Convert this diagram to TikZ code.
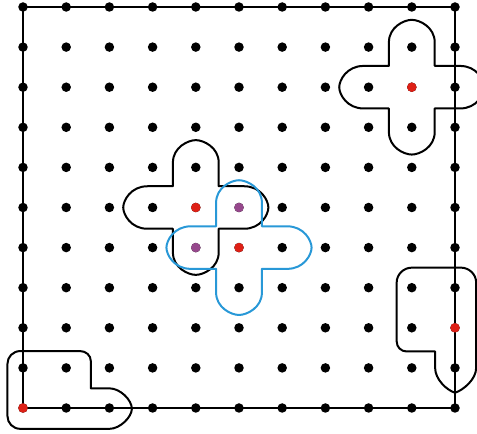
\documentclass[tikz,border=0pt]{standalone}
\definecolor{dotred}{RGB}{222,32,22}
\definecolor{dotpurple}{RGB}{150,72,140}
\definecolor{crossblue}{RGB}{40,152,215}
\tikzset{
  frame/.style={line width=1.8pt},
  outline/.style={line width=2pt, line join=round},
  gdot/.style={circle, fill=black, draw=none, inner sep=0pt, minimum size=9.5pt},
  % four-lobed cross around a grid point
  flower/.pic={
    \def\w{0.53}\def\s{1.12}\def\c{1.5}\def\t{1.68}\def\k{0.18}
    \draw[pic actions]
      (\w,\w) -- (\w,\s) .. controls (\w,\c) and (\k,\t) .. (0,\t)
        .. controls (-\k,\t) and (-\w,\c) .. (-\w,\s) -- (-\w,\w)
      -- (-\s,\w) .. controls (-\c,\w) and (-\t,\k) .. (-\t,0)
        .. controls (-\t,-\k) and (-\c,-\w) .. (-\s,-\w) -- (-\w,-\w)
      -- (-\w,-\s) .. controls (-\w,-\c) and (-\k,-\t) .. (0,-\t)
        .. controls (\k,-\t) and (\w,-\c) .. (\w,-\s) -- (\w,-\w)
      -- (\s,-\w) .. controls (\c,-\w) and (\t,-\k) .. (\t,0)
        .. controls (\t,\k) and (\c,\w) .. (\s,\w) -- cycle;
  }
}
\begin{document}
\begin{tikzpicture}[x=43.2pt, y=40.1pt]
\useasboundingbox (-0.5324,-0.6484) rectangle (10.5093,10.1746);

% square frame through the outer grid points
\draw[frame] (0,0) rectangle (10,10);

% L-shaped region at the lower left corner
\draw[outline]
  (1.57,0.49) -- (1.57,1.17)
    .. controls (1.57,1.31) and (1.46,1.42) .. (1.32,1.42)
  -- (-0.06,1.42)
    .. controls (-0.23,1.42) and (-0.36,1.28) .. (-0.36,1.10)
  -- (-0.36,-0.20)
    .. controls (-0.36,-0.38) and (-0.23,-0.52) .. (-0.06,-0.52)
  -- (2.0,-0.52)
    .. controls (2.25,-0.52) and (2.52,-0.22) .. (2.52,-0.02)
    .. controls (2.52,0.20) and (2.25,0.49) .. (2.0,0.49)
  -- cycle;

% L-shaped region on the right edge
\draw[outline]
  (9.54,1.0) -- (9.54,1.41) -- (8.88,1.41)
    .. controls (8.75,1.41) and (8.65,1.52) .. (8.65,1.66)
  -- (8.65,3.13)
    .. controls (8.65,3.33) and (8.81,3.5) .. (9.0,3.5)
  -- (10.14,3.5)
    .. controls (10.33,3.5) and (10.49,3.33) .. (10.49,3.13)
  -- (10.49,1.0)
    .. controls (10.49,0.72) and (10.2,0.45) .. (10,0.38)
    .. controls (9.8,0.45) and (9.54,0.72) .. (9.54,1.0)
  -- cycle;

% crosses
\pic[outline] at (9,8) {flower};
\pic[outline] at (4,5) {flower};
\pic[outline, draw=crossblue] at (5,4) {flower};

% grid points
\foreach \i in {0,...,10}
  \foreach \j in {0,...,10}
    \node[gdot] (d-\i-\j) at (\i,\j) {};

% marked points
\node[gdot, fill=dotred] (r-0-0) at (d-0-0) {};
\node[gdot, fill=dotred] (r-9-8) at (d-9-8) {};
\node[gdot, fill=dotred] (r-10-2) at (d-10-2) {};
\node[gdot, fill=dotred] (r-4-5) at (d-4-5) {};
\node[gdot, fill=dotred] (r-5-4) at (d-5-4) {};
\node[gdot, fill=dotpurple] (p-5-5) at (d-5-5) {};
\node[gdot, fill=dotpurple] (p-4-4) at (d-4-4) {};
\end{tikzpicture}
\end{document}
